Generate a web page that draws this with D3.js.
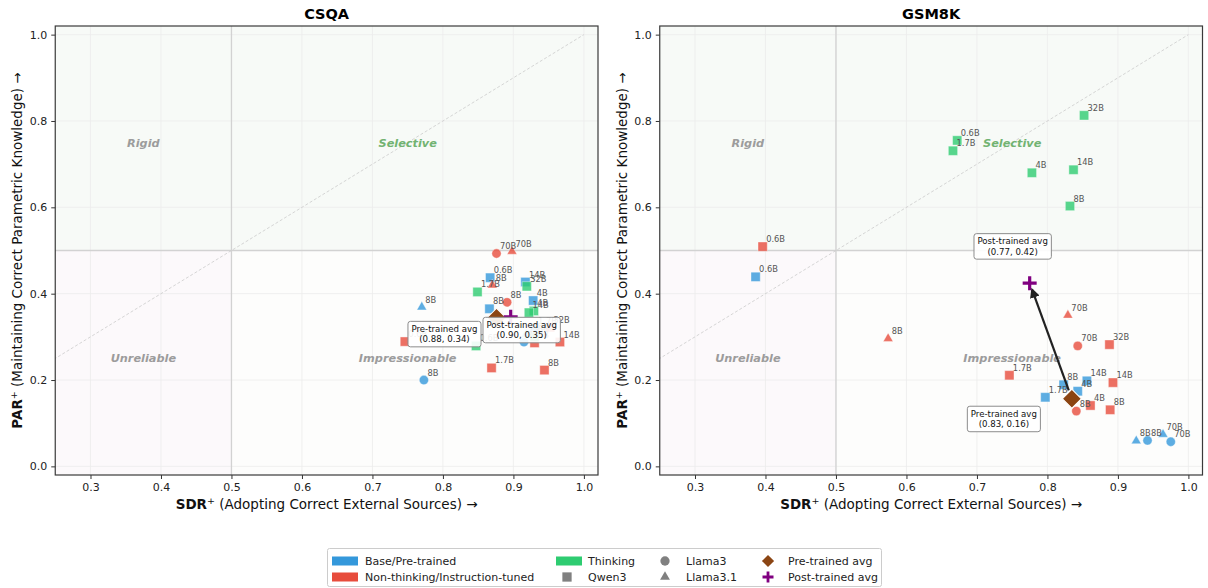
<!DOCTYPE html>
<html lang="en">
<head>
<meta charset="UTF-8">
<title>SDR+ vs PAR+ : CSQA and GSM8K</title>
<script src="https://d3js.org/d3.v7.min.js"></script>
<style>
    body { margin: 0; background: #fff; }
    text { font-family: "DejaVu Sans", sans-serif; }
</style>
</head>
<body>
<div id="chart"></div>
<script>
    // ---- data ----
    const xTicks = [0.3, 0.4, 0.5, 0.6, 0.7, 0.8, 0.9, 1.0];
    const yTicks = [0.0, 0.2, 0.4, 0.6, 0.8, 1.0];
    const typeNames = ["Base/Pre-trained", "Non-thinking/Instruction-tuned", "Thinking"];
    const familyNames = ["Llama3", "Qwen3", "Llama3.1"];
    const quadrantNames = ["Rigid", "Selective", "Unreliable", "Impressionable"];

    // [family, size, SDR+, PAR+]
    const csqaBase = [
        ["Qwen3", "0.6B", 0.867, 0.437],
        ["Qwen3", "1.7B", 0.930, 0.320],
        ["Qwen3", "4B", 0.928, 0.384],
        ["Qwen3", "8B", 0.866, 0.365],
        ["Qwen3", "14B", 0.917, 0.427],
        ["Llama3", "8B", 0.773, 0.200],
        ["Llama3", "70B", 0.915, 0.288],
        ["Llama3.1", "8B", 0.770, 0.369],
        ["Llama3.1", "70B", 0.918, 0.306]
    ];
    const csqaNonThinking = [
        ["Qwen3", "0.6B", 0.746, 0.289],
        ["Qwen3", "1.7B", 0.869, 0.228],
        ["Qwen3", "4B", 0.930, 0.286],
        ["Qwen3", "8B", 0.944, 0.223],
        ["Qwen3", "14B", 0.966, 0.288],
        ["Qwen3", "32B", 0.952, 0.322],
        ["Llama3", "8B", 0.891, 0.380],
        ["Llama3", "70B", 0.876, 0.493],
        ["Llama3.1", "8B", 0.870, 0.420],
        ["Llama3.1", "70B", 0.898, 0.498]
    ];
    const csqaThinking = [
        ["Qwen3", "0.6B", 0.847, 0.279],
        ["Qwen3", "1.7B", 0.849, 0.404],
        ["Qwen3", "4B", 0.929, 0.360],
        ["Qwen3", "8B", 0.930, 0.300],
        ["Qwen3", "14B", 0.922, 0.356],
        ["Qwen3", "32B", 0.919, 0.417]
    ];

    const gsmBase = [
        ["Qwen3", "0.6B", 0.386, 0.439],
        ["Qwen3", "1.7B", 0.797, 0.160],
        ["Qwen3", "4B", 0.843, 0.174],
        ["Qwen3", "8B", 0.823, 0.189],
        ["Qwen3", "14B", 0.856, 0.198],
        ["Llama3", "8B", 0.942, 0.060],
        ["Llama3", "70B", 0.975, 0.057],
        ["Llama3.1", "8B", 0.926, 0.059],
        ["Llama3.1", "70B", 0.964, 0.074]
    ];
    const gsmNonThinking = [
        ["Qwen3", "0.6B", 0.396, 0.509],
        ["Qwen3", "1.7B", 0.746, 0.211],
        ["Qwen3", "4B", 0.861, 0.141],
        ["Qwen3", "8B", 0.889, 0.131],
        ["Qwen3", "14B", 0.893, 0.194],
        ["Qwen3", "32B", 0.888, 0.282],
        ["Llama3", "8B", 0.841, 0.128],
        ["Llama3", "70B", 0.843, 0.279],
        ["Llama3.1", "8B", 0.574, 0.296],
        ["Llama3.1", "70B", 0.829, 0.350]
    ];
    const gsmThinking = [
        ["Qwen3", "0.6B", 0.672, 0.755],
        ["Qwen3", "1.7B", 0.666, 0.731],
        ["Qwen3", "4B", 0.778, 0.680],
        ["Qwen3", "8B", 0.832, 0.603],
        ["Qwen3", "14B", 0.837, 0.687],
        ["Qwen3", "32B", 0.852, 0.813]
    ];

    // ---- styling / layout ----
    const typeColors = ["#3498db", "#e74c3c", "#2ecc71"];
    const preColor = "#8b4513", postColor = "#800080";
    const shapes = {"Llama3": d3.symbolCircle, "Qwen3": d3.symbolSquare, "Llama3.1": d3.symbolTriangle};
    const shapeSize = {"Llama3": 68, "Qwen3": 86, "Llama3.1": 42};

    const W = 1208, H = 588;
    const plotTop = 26, plotBottom = 475, plotW = 542.75;
    const panels = [
        {title: "CSQA", left: 55.25, groups: [csqaBase, csqaNonThinking, csqaThinking],
         preBox: [-52, 16], postBox: [11, 13]},
        {title: "GSM8K", left: 659.75, groups: [gsmBase, gsmNonThinking, gsmThinking],
         preBox: [-68, 20], postBox: [-17, -37]}
    ];

    const svg = d3.select("#chart").append("svg")
        .attr("width", W).attr("height", H);

    const defs = svg.append("defs");
    defs.append("marker")
        .attr("id", "arrowHead")
        .attr("viewBox", "0 0 10 10")
        .attr("refX", 8).attr("refY", 5)
        .attr("markerWidth", 4.5).attr("markerHeight", 4.5)
        .attr("markerUnits", "strokeWidth")
        .attr("orient", "auto")
        .append("path")
        .attr("d", "M0,0L10,5L0,10z")
        .attr("fill", "#222");

    panels.forEach((p, pi) => {
        const x = d3.scaleLinear().domain([0.25, 1.02]).range([p.left, p.left + plotW]);
        const y = d3.scaleLinear().domain([-0.02, 1.02]).range([plotBottom, plotTop]);
        const g = svg.append("g");

        defs.append("clipPath").attr("id", "clip" + pi)
            .append("rect")
            .attr("x", x(0.25)).attr("y", y(1.02))
            .attr("width", plotW).attr("height", plotBottom - plotTop);

        // quadrant shading
        g.append("rect").attr("x", x(0.25)).attr("y", y(1.02))
            .attr("width", plotW).attr("height", y(0.5) - y(1.02))
            .attr("fill", "#f7faf7");
        g.append("rect").attr("x", x(0.25)).attr("y", y(0.5))
            .attr("width", x(0.5) - x(0.25)).attr("height", y(-0.02) - y(0.5))
            .attr("fill", "#fcf9fb");
        g.append("rect").attr("x", x(0.5)).attr("y", y(0.5))
            .attr("width", x(1.02) - x(0.5)).attr("height", y(-0.02) - y(0.5))
            .attr("fill", "#fdfdfc");

        // grid
        g.append("g").selectAll("line").data(xTicks).join("line")
            .attr("x1", d => x(d)).attr("x2", d => x(d))
            .attr("y1", plotTop).attr("y2", plotBottom)
            .attr("stroke", "#ececec").attr("stroke-width", 0.8);
        g.append("g").selectAll("line").data(yTicks).join("line")
            .attr("y1", d => y(d)).attr("y2", d => y(d))
            .attr("x1", x(0.25)).attr("x2", x(1.02))
            .attr("stroke", "#ececec").attr("stroke-width", 0.8);

        // quadrant dividers and diagonal
        g.append("line").attr("x1", x(0.5)).attr("x2", x(0.5))
            .attr("y1", plotTop).attr("y2", plotBottom)
            .attr("stroke", "#d2d2d2").attr("stroke-width", 1.3);
        g.append("line").attr("y1", y(0.5)).attr("y2", y(0.5))
            .attr("x1", x(0.25)).attr("x2", x(1.02))
            .attr("stroke", "#d2d2d2").attr("stroke-width", 1.3);
        g.append("line")
            .attr("clip-path", `url(#clip${pi})`)
            .attr("x1", x(0)).attr("y1", y(0)).attr("x2", x(1)).attr("y2", y(1))
            .attr("stroke", "#cccccc").attr("stroke-width", 0.8)
            .attr("stroke-dasharray", "3,2");

        // quadrant names
        const qPos = [[0.375, 0.75], [0.75, 0.75], [0.375, 0.25], [0.75, 0.25]];
        g.append("g").selectAll("text").data(quadrantNames).join("text")
            .attr("x", (d, i) => x(qPos[i][0]))
            .attr("y", (d, i) => y(qPos[i][1]) + 4)
            .attr("text-anchor", "middle")
            .attr("font-size", "11.3px").attr("font-weight", "bold").attr("font-style", "italic")
            .attr("fill", d => d === "Selective" ? "#72b372" : "#9c9c9c")
            .text(d => d);

        // axes
        g.append("g")
            .attr("transform", `translate(0,${plotBottom})`)
            .call(d3.axisBottom(x).tickValues(xTicks).tickFormat(d3.format(".1f")).tickSize(4).tickPadding(4))
            .call(a => a.select(".domain").remove())
            .call(a => a.selectAll("text").attr("font-size", "11px").attr("fill", "#222").attr("font-family", "DejaVu Sans"))
            .call(a => a.selectAll("line").attr("stroke", "#333"));
        g.append("g")
            .attr("transform", `translate(${p.left},0)`)
            .call(d3.axisLeft(y).tickValues(yTicks).tickFormat(d3.format(".1f")).tickSize(4).tickPadding(4))
            .call(a => a.select(".domain").remove())
            .call(a => a.selectAll("text").attr("font-size", "11px").attr("fill", "#222").attr("font-family", "DejaVu Sans"))
            .call(a => a.selectAll("line").attr("stroke", "#333"));

        // frame
        g.append("rect")
            .attr("x", x(0.25)).attr("y", plotTop)
            .attr("width", plotW).attr("height", plotBottom - plotTop)
            .attr("fill", "none").attr("stroke", "#3a3a3a").attr("stroke-width", 1.2);

        // titles and axis labels
        g.append("text")
            .attr("x", p.left + plotW / 2).attr("y", 19)
            .attr("text-anchor", "middle")
            .attr("font-size", "14.5px").attr("font-weight", "bold")
            .text(p.title);

        const xl = g.append("text")
            .attr("x", p.left + plotW / 2).attr("y", 509)
            .attr("text-anchor", "middle").attr("font-size", "13.5px").attr("fill", "#111");
        xl.append("tspan").attr("font-weight", "bold").text("SDR");
        xl.append("tspan").attr("font-size", "9.5px").attr("dy", -5).text("+");
        xl.append("tspan").attr("dy", 5).text(" (Adopting Correct External Sources) \u2192");

        const yl = g.append("text")
            .attr("transform", `translate(${p.left - 33},${(plotTop + plotBottom) / 2}) rotate(-90)`)
            .attr("text-anchor", "middle").attr("font-size", "13.5px").attr("fill", "#111");
        yl.append("tspan").attr("font-weight", "bold").text("PAR");
        yl.append("tspan").attr("font-size", "9.5px").attr("dy", -5).text("+");
        yl.append("tspan").attr("dy", 5).text(" (Maintaining Correct Parametric Knowledge) \u2192");

        // model points
        p.groups.forEach((rows, ti) => {
            g.append("g").selectAll("path").data(rows).join("path")
                .attr("transform", d => `translate(${x(d[2])},${y(d[3])})`)
                .attr("d", d => d3.symbol(shapes[d[0]], shapeSize[d[0]])())
                .attr("fill", typeColors[ti]).attr("fill-opacity", 0.8)
                .attr("stroke", "#fff").attr("stroke-width", 0.4);
        });
        p.groups.forEach(rows => {
            g.append("g").selectAll("text").data(rows).join("text")
                .attr("x", d => x(d[2]) + 3.5)
                .attr("y", d => y(d[3]) - 4.5)
                .attr("font-size", "8.3px").attr("fill", "#555")
                .text(d => d[1]);
        });

        // averages
        const base = p.groups[0];
        const post = p.groups[1].concat(p.groups[2]);
        const pre = [d3.mean(base, d => d[2]), d3.mean(base, d => d[3])];
        const pst = [d3.mean(post, d => d[2]), d3.mean(post, d => d[3])];
        const [px0, py0, px1, py1] = [x(pre[0]), y(pre[1]), x(pst[0]), y(pst[1])];
        const len = Math.hypot(px1 - px0, py1 - py0);
        const ux = (px1 - px0) / len, uy = (py1 - py0) / len;
        if (len > 20) {
            g.append("line")
                .attr("x1", px0 + ux * 9).attr("y1", py0 + uy * 9)
                .attr("x2", px1 - ux * 7).attr("y2", py1 - uy * 7)
                .attr("stroke", "#222").attr("stroke-width", 2.2)
                .attr("marker-end", "url(#arrowHead)");
        }
        g.append("path")
            .attr("transform", `translate(${px0},${py0}) rotate(45)`)
            .attr("d", d3.symbol(d3.symbolSquare, 180)())
            .attr("fill", preColor).attr("stroke", "#fff").attr("stroke-width", 1);
        g.append("path")
            .attr("transform", `translate(${px1},${py1})`)
            .attr("d", "M-7,0H7M0,-7V7")
            .attr("stroke", postColor).attr("stroke-width", 3.2).attr("fill", "none");

        const fmt = d3.format(".2f");
        const boxes = [
            {label: "Pre-trained avg", v: pre, cx: px0 + p.preBox[0], cy: py0 + p.preBox[1]},
            {label: "Post-trained avg", v: pst, cx: px1 + p.postBox[0], cy: py1 + p.postBox[1]}
        ];
        boxes.forEach(b => {
            const bg = g.append("g");
            const rect = bg.append("rect");
            const t = bg.append("text")
                .attr("text-anchor", "middle").attr("font-size", "8.6px").attr("fill", "#111");
            t.append("tspan").attr("x", b.cx).attr("y", b.cy - 2).text(b.label);
            t.append("tspan").attr("x", b.cx).attr("y", b.cy + 8.5).text(`(${fmt(b.v[0])}, ${fmt(b.v[1])})`);
            const bb = t.node().getBBox();
            rect.attr("x", bb.x - 3.5).attr("y", bb.y - 2.5)
                .attr("width", bb.width + 7).attr("height", bb.height + 5)
                .attr("rx", 2.5)
                .attr("fill", "#fff").attr("fill-opacity", 0.9)
                .attr("stroke", "#8c8c8c").attr("stroke-width", 1);
        });
    });

    // ---- legend ----
    const lg = svg.append("g");
    lg.append("rect")
        .attr("x", 327.5).attr("y", 548.5).attr("width", 554).attr("height", 38)
        .attr("rx", 2).attr("fill", "#fff").attr("stroke", "#cccccc");
    const rowY = [561, 577];
    const legendItems = [
        {col: 0, row: 0, kind: "patch", color: typeColors[0], text: typeNames[0]},
        {col: 0, row: 1, kind: "patch", color: typeColors[1], text: typeNames[1]},
        {col: 1, row: 0, kind: "patch", color: typeColors[2], text: typeNames[2]},
        {col: 1, row: 1, kind: "Qwen3", color: "#808080", text: familyNames[1]},
        {col: 2, row: 0, kind: "Llama3", color: "#808080", text: familyNames[0]},
        {col: 2, row: 1, kind: "Llama3.1", color: "#808080", text: familyNames[2]},
        {col: 3, row: 0, kind: "pre", color: preColor, text: "Pre-trained avg"},
        {col: 3, row: 1, kind: "post", color: postColor, text: "Post-trained avg"}
    ];
    const colX = [332, 556, 654, 757];
    const colText = [365, 588, 686, 788];
    legendItems.forEach(it => {
        const cy = rowY[it.row];
        if (it.kind === "patch") {
            lg.append("rect").attr("x", colX[it.col]).attr("y", cy - 4.5)
                .attr("width", 26).attr("height", 9).attr("fill", it.color);
        } else if (it.kind === "pre") {
            lg.append("path").attr("transform", `translate(${colX[it.col] + 11},${cy}) rotate(45)`)
                .attr("d", d3.symbol(d3.symbolSquare, 75)()).attr("fill", it.color);
        } else if (it.kind === "post") {
            lg.append("path").attr("transform", `translate(${colX[it.col] + 11},${cy})`)
                .attr("d", "M-5.5,0H5.5M0,-5.5V5.5")
                .attr("stroke", it.color).attr("stroke-width", 2.8);
        } else {
            lg.append("path").attr("transform", `translate(${colX[it.col] + 11},${cy})`)
                .attr("d", d3.symbol(shapes[it.kind], shapeSize[it.kind])()).attr("fill", it.color);
        }
        lg.append("text").attr("x", colText[it.col]).attr("y", cy + 4)
            .attr("font-size", "11px").attr("fill", "#222").text(it.text);
    });
</script>
</body>
</html>
